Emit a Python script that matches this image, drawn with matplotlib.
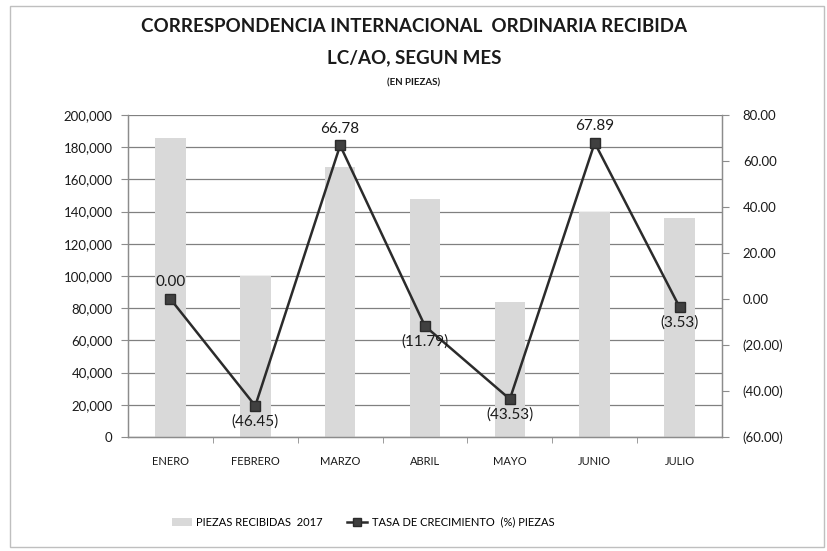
import matplotlib
matplotlib.use("Agg")
import matplotlib.pyplot as plt
import matplotlib.ticker as mticker
from matplotlib.patches import Rectangle

# ── Data ────────────────────────────────────────────────────────────────────
meses = ["ENERO", "FEBRERO", "MARZO", "ABRIL", "MAYO", "JUNIO", "JULIO"]
piezas = [186000, 100000, 168000, 148000, 84000, 140000, 136000]
tasa = [0.00, -46.45, 66.78, -11.79, -43.53, 67.89, -3.53]

plt.rcParams["font.family"] = ["Lato", "DejaVu Sans"]

BAR_COLOR = "#d9d9d9"
LINE_COLOR = "#2b2b2b"
MARKER_COLOR = "#404040"
AXIS_COLOR = "#8c8c8c"
TEXT_COLOR = "#1a1a1a"


def fmt_paren(v, _=None):
    if v < 0:
        return f"({abs(v):,.2f})"
    return f"{v:,.2f}"


fig = plt.figure(figsize=(8.28, 5.51), dpi=100)
ax = fig.add_axes([128 / 828, 1 - 437 / 551, (722 - 128) / 828, (437 - 115) / 551])
ax2 = ax.twinx()

x = list(range(len(meses)))
ax.bar(x, piezas, width=0.36, color=BAR_COLOR, zorder=2, label="PIEZAS RECIBIDAS  2017")
ax.set_ylim(0, 200000)
ax.set_xlim(-0.5, len(meses) - 0.5)
ax.yaxis.set_major_locator(mticker.MultipleLocator(20000))
ax.yaxis.set_major_formatter(mticker.FuncFormatter(lambda v, _: f"{v:,.0f}"))
ax.grid(axis="y", color="#808080", linewidth=0.9, zorder=0)
ax.set_axisbelow(True)
ax.set_xticks(x)
ax.set_xticklabels(meses)
ax.set_xticks([i + 0.5 for i in x[:-1]], minor=True)
ax.tick_params(axis="x", which="major", length=0, pad=14, labelsize=8, labelcolor=TEXT_COLOR)
ax.tick_params(axis="x", which="minor", length=4, color=AXIS_COLOR)
ax.tick_params(axis="y", length=5, color=AXIS_COLOR, labelsize=9.5, labelcolor=TEXT_COLOR, pad=6)

ax2.plot(x, tasa, color=LINE_COLOR, linewidth=1.8, marker="s", markersize=7,
         markerfacecolor=MARKER_COLOR, markeredgecolor=LINE_COLOR, zorder=3,
         label="TASA DE CRECIMIENTO  (%) PIEZAS")
ax2.set_ylim(-60, 80)
ax2.yaxis.set_major_locator(mticker.MultipleLocator(20))
ax2.yaxis.set_major_formatter(mticker.FuncFormatter(fmt_paren))
ax2.tick_params(axis="y", length=5, color=AXIS_COLOR, labelsize=9.5, labelcolor=TEXT_COLOR, pad=10)

for a in (ax, ax2):
    a.spines["top"].set_visible(False)
    for s in ("left", "right", "bottom"):
        a.spines[s].set_color(AXIS_COLOR)
        a.spines[s].set_linewidth(0.9)

for xi, v in zip(x, tasa):
    if v >= 0:
        ax2.annotate(fmt_paren(v), (xi, v), xytext=(0, 7), textcoords="offset points",
                     ha="center", va="bottom", fontsize=11, color=TEXT_COLOR)
    else:
        ax2.annotate(fmt_paren(v), (xi, v), xytext=(0, -6), textcoords="offset points",
                     ha="center", va="top", fontsize=11, color=TEXT_COLOR)

# ── Titles ──────────────────────────────────────────────────────────────────
fig.text(0.5, 1 - 27 / 551, "CORRESPONDENCIA INTERNACIONAL  ORDINARIA RECIBIDA",
         ha="center", va="center", fontsize=13.5, fontweight="bold", color=TEXT_COLOR)
fig.text(0.5, 1 - 58 / 551, "LC/AO, SEGUN MES", ha="center", va="center",
         fontsize=13.5, fontweight="bold", color=TEXT_COLOR)
fig.text(0.5, 1 - 83 / 551, "(EN PIEZAS)", ha="center", va="center",
         fontsize=7, fontweight="bold", color=TEXT_COLOR)

# ── Legend ──────────────────────────────────────────────────────────────────
h1, l1 = ax.get_legend_handles_labels()
h2, l2 = ax2.get_legend_handles_labels()
fig.legend(h1 + h2, l1 + l2, loc="center", bbox_to_anchor=(363 / 828, 1 - 522 / 551),
           ncol=2, frameon=False, fontsize=8, handlelength=1.8, columnspacing=2.2,
           handletextpad=0.4, markerscale=0.8)

# outer chart frame
fig.patches.append(Rectangle((10 / 828, 4 / 551), 814 / 828, 541 / 551,
                             transform=fig.transFigure, fill=False,
                             edgecolor="#bfbfbf", linewidth=1.0))

fig.savefig("out.png", dpi=100, facecolor="white")
